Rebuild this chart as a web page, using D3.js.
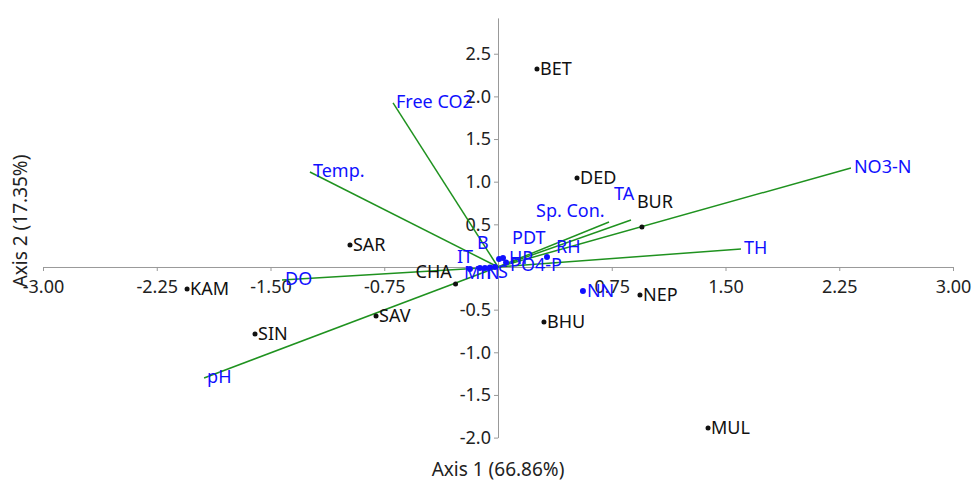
<!DOCTYPE html>
<html>
<head>
<meta charset="utf-8">
<script src="https://cdn.jsdelivr.net/npm/d3@7"></script>
<style>
  body { margin: 0; background: #fff; }
  text { font-family: "Noto Sans", sans-serif; }
</style>
</head>
<body>
<div id="biplot"></div>
<script>
// Sites (black points)
var siteNames = ["BET", "DED", "BUR", "SAR", "KAM", "SIN", "SAV", "CHA", "BHU", "NEP", "MUL"];
var siteAx1 = [0.257, 0.521, 0.949, -0.976, -2.05, -1.602, -0.804, -0.280, 0.303, 0.936, 1.385];
var siteAx2 = [2.32, 1.043, 0.469, 0.258, -0.258, -0.785, -0.574, -0.199, -0.645, -0.328, -1.887];

// Variables drawn as vectors from the origin
var vecNames = ["NO3-N", "TH", "TA", "Sp. Con.", "Temp.", "Free CO2", "DO", "pH"];
var vecAx1 = [2.327, 1.602, 0.877, 0.732, -1.240, -0.692, -1.424, -1.938];
var vecAx2 = [1.161, 0.211, 0.551, 0.528, 1.114, 1.923, -0.152, -1.301];

// Variables drawn as blue points
var varNames = ["NN", "RH", "IT", "B", "Mn", "N", "S", "PDT", "HP", "PO4-P"];
var varAx1 = [0.560, 0.323, -0.185, -0.119, -0.086, -0.053, -0.020, 0.007, 0.033, 0.053];
var varAx2 = [-0.281, 0.117, -0.023, -0.012, -0.012, -0.006, 0.0, 0.094, 0.106, 0.053];

// Axis ticks
var xTicks = [-3, -2.25, -1.5, -0.75, 0.75, 1.5, 2.25, 3];
var yTicks = [-2, -1.5, -1, -0.5, 0.5, 1, 1.5, 2, 2.5];

// label nudges (px) where the labels were moved off the default spot
var nudge = {
  "BUR": [-8, -25], "CHA": [-43, -12],
  "TA": [-20, -25], "Sp. Con.": [-76, -10],
  "RH": [5, -10], "IT": [-17, -12], "B": [-7, -25], "Mn": [-25, 5],
  "N": [-8, 5], "S": [-1, 5], "PDT": [9, -21], "HP": [2, 0], "PO4-P": [0, 2]
};

var width = 973, height = 482;
var blue = "#1010ff", green = "#1f921f";

var svg = d3.select("#biplot")
  .append("svg")
    .attr("width", width)
    .attr("height", height);

var x = d3.scaleLinear().domain([-3, 3]).range([43, 953]);
var y = d3.scaleLinear().domain([-2, 2.92]).range([437.6, 17.9]);

// X axis through the origin
svg.append("g")
  .attr("transform", "translate(0," + y(0) + ")")
  .call(d3.axisBottom(x).tickValues(xTicks).tickSize(4).tickSizeOuter(0).tickPadding(9)
    .tickFormat(function(d) { return d.toFixed(2); }));

// Y axis through the origin
svg.append("g")
  .attr("transform", "translate(" + x(0) + ",0)")
  .call(d3.axisLeft(y).tickValues(yTicks).tickSize(4).tickSizeOuter(0).tickPadding(3)
    .tickFormat(function(d) { return d.toFixed(1); }));

svg.selectAll(".domain, .tick line").attr("stroke", "#999");
svg.selectAll(".tick text").attr("fill", "#222").style("font-size", "18px");

// Axis titles
svg.append("text")
  .attr("x", 498).attr("y", 476)
  .attr("text-anchor", "middle")
  .attr("fill", "#222").style("font-size", "19px")
  .text("Axis 1 (66.86%)");

svg.append("text")
  .attr("transform", "translate(27,221)rotate(-90)")
  .attr("text-anchor", "middle")
  .attr("fill", "#222").style("font-size", "19px")
  .text("Axis 2 (17.35%)");

function off(name, i) { return nudge[name] ? nudge[name][i] : 0; }

// Vectors
var vecs = vecNames.map(function(n, i) { return {name: n, a: vecAx1[i], b: vecAx2[i]}; });
svg.selectAll("line.vec")
  .data(vecs)
  .enter()
  .append("line")
    .attr("class", "vec")
    .attr("x1", x(0)).attr("y1", y(0))
    .attr("x2", function(d) { return x(d.a); })
    .attr("y2", function(d) { return y(d.b); })
    .attr("stroke", green)
    .attr("stroke-width", 1.5);

svg.selectAll("text.vec")
  .data(vecs)
  .enter()
  .append("text")
    .attr("class", "vec")
    .attr("x", function(d) { return x(d.a) + 3 + off(d.name, 0); })
    .attr("y", function(d) { return y(d.b) - 1 + off(d.name, 1); })
    .attr("dy", "0.35em")
    .attr("fill", blue)
    .style("font-size", "18px")
    .text(function(d) { return d.name; });

// Variable points
var vars = varNames.map(function(n, i) { return {name: n, a: varAx1[i], b: varAx2[i]}; });
svg.selectAll("circle.var")
  .data(vars)
  .enter()
  .append("circle")
    .attr("class", "var")
    .attr("cx", function(d) { return x(d.a); })
    .attr("cy", function(d) { return y(d.b); })
    .attr("r", 3)
    .attr("fill", blue);

svg.selectAll("text.var")
  .data(vars)
  .enter()
  .append("text")
    .attr("class", "var")
    .attr("x", function(d) { return x(d.a) + 4 + off(d.name, 0); })
    .attr("y", function(d) { return y(d.b) + off(d.name, 1); })
    .attr("dy", "0.35em")
    .attr("fill", blue)
    .style("font-size", "18px")
    .text(function(d) { return d.name; });

// Sites
var sites = siteNames.map(function(n, i) { return {name: n, a: siteAx1[i], b: siteAx2[i]}; });
svg.selectAll("circle.site")
  .data(sites)
  .enter()
  .append("circle")
    .attr("class", "site")
    .attr("cx", function(d) { return x(d.a); })
    .attr("cy", function(d) { return y(d.b); })
    .attr("r", 2.5)
    .attr("fill", "#111");

svg.selectAll("text.site")
  .data(sites)
  .enter()
  .append("text")
    .attr("class", "site")
    .attr("x", function(d) { return x(d.a) + 3 + off(d.name, 0); })
    .attr("y", function(d) { return y(d.b) + off(d.name, 1); })
    .attr("dy", "0.35em")
    .attr("fill", "#111")
    .style("font-size", "18px")
    .text(function(d) { return d.name; });
</script>
</body>
</html>
